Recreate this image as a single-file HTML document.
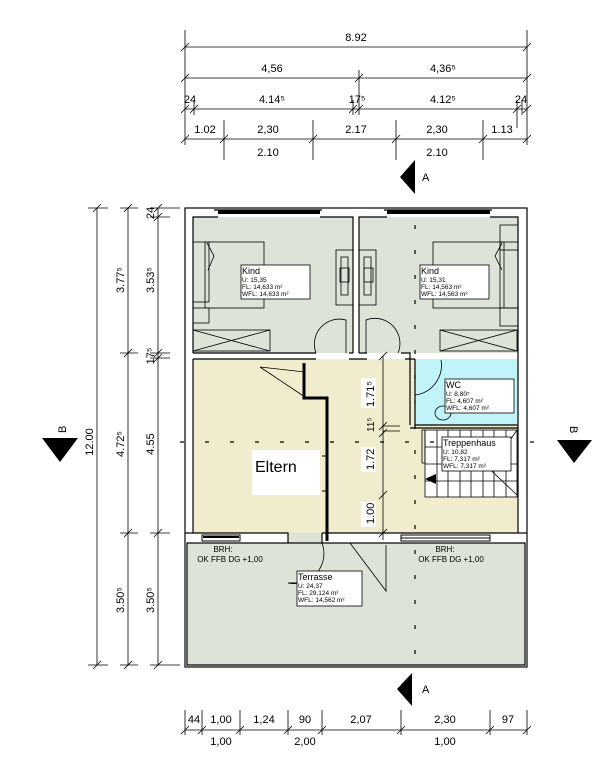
<!DOCTYPE html>
<html><head><meta charset="utf-8"><style>
html,body{margin:0;padding:0;background:#fff}
svg{display:block}
text{font-family:"Liberation Sans",Arial,sans-serif;fill:#000}
</style></head><body>
<svg width="602" height="783" viewBox="0 0 602 783" xmlns="http://www.w3.org/2000/svg">
<rect x="193" y="217" width="160" height="136" fill="#dde3d6"/>
<rect x="359" y="217" width="159" height="136" fill="#dde3d6"/>
<rect x="193" y="359" width="325" height="174" fill="#f2ecce"/>
<rect x="415" y="359" width="103" height="66" fill="#c0f4f8"/>
<rect x="425" y="430" width="92" height="67" fill="#fff"/>
<rect x="187" y="543" width="338" height="123" fill="#dde3d6"/>
<rect x="288" y="533" width="34" height="10" fill="#dde3d6"/>

<g fill="none" stroke="#000" stroke-width="1.2">
<rect x="185" y="208" width="342" height="459"/>
<rect x="187" y="543" width="338" height="122"/>
<path d="M193,353 V217 H218 M320,217 H353 V353 M193,353 H316 M349,353 H353"/>
<path d="M359,353 V217 H387 M490,217 H518 V533 M359,353 H367 M401,353 H410 V359"/>
<path d="M193,359 V533 M193,359 H316 M349,359 H367 M405,359 H415"/>
<path d="M185,533 H288 V543 M322,533 V543 M322,533 H527"/>
<path d="M410,359 V425 M415,359 V425 H518 M410,428 H518"/>
<path d="M214,210 H322 M384,210 H492"/>
</g>
<rect x="218" y="210" width="102" height="4" fill="#000"/>
<rect x="387" y="210" width="103" height="4" fill="#000"/>
<rect x="202" y="535" width="38" height="6" fill="#fff" stroke="#000"/>
<line x1="203" y1="537" x2="239" y2="537" stroke="#000" stroke-width="2"/>
<rect x="401" y="535" width="89" height="6" fill="#fff" stroke="#000"/>
<line x1="401" y1="538" x2="490" y2="538" stroke="#000"/>

<g fill="none" stroke="#000" stroke-width="0.8">
<rect x="193" y="242" width="16" height="60"/>
<rect x="205" y="242" width="59" height="66"/>
<path d="M207,243 L214,256 L208,270"/>
<rect x="193" y="308" width="16" height="15"/>
<rect x="193" y="330" width="77" height="21"/><path d="M193,330 L270,351 M270,330 L193,351"/>
<rect x="336" y="250" width="17" height="55"/><rect x="341" y="257" width="7" height="38"/><rect x="340" y="268" width="9" height="14"/>
<rect x="359" y="250" width="17" height="55"/><rect x="364" y="257" width="7" height="38"/><rect x="364" y="268" width="9" height="14"/>
<rect x="500" y="225" width="18" height="25"/>
<rect x="433" y="242" width="85" height="66"/><rect x="500" y="242" width="4" height="66"/>
<path d="M502,243 L495,256 L502,270"/>
<rect x="500" y="308" width="18" height="18"/>
<rect x="440" y="330" width="77" height="21"/><path d="M440,330 L517,351 M517,330 L440,351"/>
<path d="M316,353 A25,25 0 0 1 346,320 V353"/>
<path d="M366,353 V320 A25,25 0 0 1 398,353"/>
<path d="M415,395 A30,30 0 0 0 441,360"/>
<path d="M322,543 A30,30 0 0 1 288,583"/>
<path d="M260,367 L305,372 M260,367 L305,397"/>
<path d="M350,543 L386,591 V545"/>
<rect x="425" y="430" width="92" height="67"/>
<path d="M437,430 V497 M448,430 V497 M460,430 V497 M471,430 V497 M483,430 V497 M494,430 V497 M506,430 V497 M425,447 H470 M425,464 H517 M425,481 H517 M517,430 L500,455 M480,460 L517,495"/>
<rect x="422" y="430" width="3" height="33"/>
<ellipse cx="443" cy="413" rx="8" ry="7"/>
</g>
<path d="M425,479 L436,474 L436,484 Z" fill="#000"/>
<path d="M304,363 V398 H327 V541" fill="none" stroke="#000" stroke-width="3"/>
<line x1="322" y1="456" x2="327" y2="456" stroke="#000"/>
<line x1="322" y1="491" x2="327" y2="491" stroke="#000"/>

<g stroke="#000" stroke-width="1.2" stroke-dasharray="4,21">
<line x1="415" y1="225" x2="415" y2="660"/>
<line x1="180" y1="442" x2="540" y2="442"/>
</g>

<g stroke="#000" stroke-width="0.8" fill="none">
<line x1="383" y1="356" x2="383" y2="540"/>
<path d="M379,360 l8,-8 M379,430 l8,-8 M379,437 l8,-8 M379,499 l8,-8 M379,537 l8,-8"/>
<path d="M383,426 H400 M383,431 H400"/>
</g>
<g font-size="11">
<rect x="361" y="378" width="15" height="30" fill="#fff"/>
<text transform="translate(374,407) rotate(-90)">1.71⁵</text>
<text transform="translate(374,432) rotate(-90)" font-size="10">11⁵</text>
<rect x="361" y="447" width="15" height="25" fill="#fff"/>
<text transform="translate(374,470) rotate(-90)">1.72</text>
<rect x="361" y="502" width="15" height="25" fill="#fff"/>
<text transform="translate(374,524) rotate(-90)">1.00</text>
</g>

<g fill="#fff" stroke="#000" stroke-width="0.8">
<rect x="241" y="265" width="69" height="34"/>
<rect x="420" y="265" width="69" height="34"/>
<rect x="445" y="379" width="69" height="34" />
<rect x="442" y="437" width="69" height="34"/>
<rect x="297" y="571" width="65" height="35"/>
</g>
<rect x="252" y="450" width="68" height="45" fill="#fff"/>
<text x="255" y="472" font-size="16">Eltern</text>
<g font-size="6.5">
<text x="242" y="274" font-size="9">Kind</text><text x="242" y="282">U: 15,35</text><text x="242" y="289">FL: 14,633 m²</text><text x="242" y="296">WFL: 14,633 m²</text>
<text x="421" y="274" font-size="9">Kind</text><text x="421" y="282">U: 15,31</text><text x="421" y="289">FL: 14,563 m²</text><text x="421" y="296">WFL: 14,563 m²</text>
<text x="446" y="388" font-size="9">WC</text><text x="446" y="396">U: 8,80⁵</text><text x="446" y="403">FL: 4,607 m²</text><text x="446" y="410">WFL: 4,607 m²</text>
<text x="443" y="446" font-size="9">Treppenhaus</text><text x="443" y="454">U: 10,82</text><text x="443" y="461">FL: 7,317 m²</text><text x="443" y="468">WFL: 7,317 m²</text>
<text x="298" y="580" font-size="9">Terrasse</text><text x="298" y="588">U: 24,37</text><text x="298" y="595">FL: 29,124 m²</text><text x="298" y="602">WFL: 14,562 m²</text>
</g>
<line x1="288" y1="583" x2="297" y2="583" stroke="#000"/>
<g font-size="8">
<text x="223" y="552" text-anchor="middle">BRH:</text><text x="230" y="562" text-anchor="middle">OK FFB DG +1,00</text>
<text x="445" y="552" text-anchor="middle">BRH:</text><text x="451" y="562" text-anchor="middle">OK FFB DG +1,00</text>
</g>

<g stroke="#000" stroke-width="0.8" fill="none">
<line x1="185" y1="47" x2="527" y2="47"/>
<line x1="185" y1="78" x2="527" y2="78"/>
<line x1="185" y1="109" x2="527" y2="109"/>
<line x1="185" y1="139" x2="527" y2="139"/>
<path d="M185,30 V145 M527,30 V145 M359,70 V115 M353,100 V115 M194,100 V115 M517,100 V115 M224,120 V160 M313,120 V160 M396,120 V160 M483,120 V160 M522,100 V115 M517,115 V128"/>
<path d="M181,51 l8,-8 M523,51 l8,-8 M181,82 l8,-8 M355,82 l8,-8 M523,82 l8,-8 M181,113 l8,-8 M190,113 l8,-8 M349,113 l8,-8 M355,113 l8,-8 M513,113 l8,-8 M523,113 l8,-8 M181,143 l8,-8 M220,143 l8,-8 M309,143 l8,-8 M392,143 l8,-8 M479,143 l8,-8 M523,143 l8,-8"/>
</g>
<g font-size="11" text-anchor="middle">
<text x="356" y="41">8.92</text>
<text x="272" y="72">4,56</text><text x="443" y="72">4,36⁵</text>
<text x="190" y="103">24</text><text x="272" y="103">4.14⁵</text><text x="357" y="103">17⁵</text><text x="443" y="103">4.12⁵</text><text x="521" y="103">24</text>
<text x="205" y="133">1.02</text><text x="268" y="133">2,30</text><text x="356" y="133">2.17</text><text x="437" y="133">2,30</text><text x="502" y="133">1.13</text>
<text x="268" y="156">2.10</text><text x="437" y="156">2.10</text>
</g>
<g stroke="#000" stroke-width="0.8" fill="none">
<line x1="97" y1="208" x2="97" y2="665"/>
<line x1="128" y1="208" x2="128" y2="665"/>
<line x1="158" y1="208" x2="158" y2="665"/>
<path d="M88,208 H108 M120,208 H138 M150,208 H180 M150,217 H170 M120,353 H138 M150,353 H170 M150,358 H170 M120,533 H138 M150,533 H170 M88,665 H108 M120,665 H138 M150,665 H180"/>
<path d="M93,212 l8,-8 M124,212 l8,-8 M154,212 l8,-8 M154,221 l8,-8 M124,357 l8,-8 M154,357 l8,-8 M154,362 l8,-8 M124,537 l8,-8 M154,537 l8,-8 M93,669 l8,-8 M124,669 l8,-8 M154,669 l8,-8"/>
</g>
<g font-size="11" text-anchor="middle">
<text transform="translate(124,280) rotate(-90)">3.77⁵</text>
<text transform="translate(154,280) rotate(-90)">3.53⁵</text>
<text transform="translate(154,213) rotate(-90)">24</text>
<text transform="translate(154,356) rotate(-90)">17⁵</text>
<text transform="translate(93,442) rotate(-90)">12.00</text>
<text transform="translate(124,444) rotate(-90)">4.72⁵</text>
<text transform="translate(154,444) rotate(-90)">4.55</text>
<text transform="translate(124,600) rotate(-90)">3.50⁵</text>
<text transform="translate(154,600) rotate(-90)">3.50⁵</text>
</g>
<g stroke="#000" stroke-width="0.8" fill="none">
<line x1="185" y1="730" x2="527" y2="730"/>
<path d="M185,710 V735 M202,710 V735 M240,710 V735 M288,710 V735 M322,710 V735 M401,710 V735 M490,710 V735 M527,710 V735"/>
<path d="M181,734 l8,-8 M198,734 l8,-8 M236,734 l8,-8 M284,734 l8,-8 M318,734 l8,-8 M397,734 l8,-8 M486,734 l8,-8 M523,734 l8,-8"/>
</g>
<g font-size="11" text-anchor="middle">
<text x="194" y="723">44</text><text x="221" y="723">1,00</text><text x="264" y="723">1,24</text><text x="305" y="723">90</text><text x="361" y="723">2,07</text><text x="445" y="723">2,30</text><text x="508" y="723">97</text>
<text x="221" y="745">1,00</text><text x="305" y="745">2,00</text><text x="445" y="745">1,00</text>
</g>
<path d="M400,177 L415,160 V194 Z" fill="#000"/>
<text x="422" y="181" font-size="11">A</text>
<path d="M397,689 L412,673 V706 Z" fill="#000"/>
<text x="422" y="693" font-size="11">A</text>
<path d="M42,438 H78 L60,462 Z" fill="#000"/>
<text transform="translate(66,433) rotate(-90)" font-size="11">B</text>
<path d="M557,440 H592 L574,463 Z" fill="#000"/>
<text transform="translate(570,426) rotate(90)" font-size="11">B</text>
</svg>
</body></html>
